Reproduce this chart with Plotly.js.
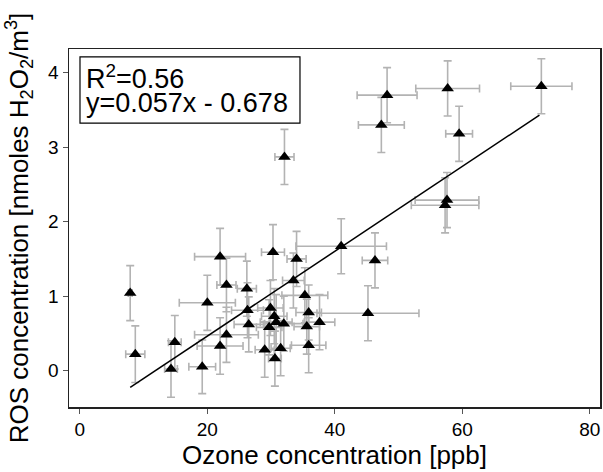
<!DOCTYPE html>
<html>
<head>
<meta charset="utf-8">
<script src="https://cdn.plot.ly/plotly-3.0.1.min.js"></script>
<style>html,body{margin:0;padding:0;background:#fff;}#chart{width:603px;height:472px;}</style>
</head>
<body>
<div id="chart"></div>
<script>
// Ozone concentration [ppb]
const ozone = [7.9, 8.7, 14.3, 14.9, 19.2, 20.0, 22.0, 22.0, 23.0, 23.0,
  26.2, 26.3, 26.5, 29.0, 29.7, 29.9, 30.3, 30.5, 30.6, 30.8,
  31.5, 32.0, 32.1, 33.5, 34.0, 35.3, 35.6, 35.9, 35.9, 37.6,
  41.0, 45.2, 46.3, 47.3, 48.2, 57.3, 57.6, 57.7, 59.5, 72.4];
// ROS concentration [nmoles H2O2/m3]
const ros = [1.04, 0.22, 0.02, 0.38, 0.05, 0.91, 1.53, 0.33, 1.15, 0.48,
  1.10, 0.81, 0.62, 0.28, 0.58, 0.84, 1.59, 0.73, 0.16, 0.65,
  0.30, 0.63, 2.87, 1.21, 1.50, 1.01, 0.59, 0.78, 0.34, 0.65,
  1.67, 0.77, 1.48, 3.30, 3.70, 2.22, 2.29, 3.79, 3.18, 3.82];
// x uncertainty [ppb]
const ozoneErr = [0.3, 1.5, 1.0, 1.0, 2.1, 4.4, 4.0, 3.6, 1.5, 5.0,
  1.5, 2.5, 2.3, 1.5, 2.0, 2.0, 1.8, 2.0, 1.0, 2.5,
  1.5, 3.0, 1.5, 1.7, 1.5, 3.6, 2.0, 2.0, 2.7, 2.4,
  7.1, 8.0, 2.0, 3.6, 4.7, 5.3, 5.0, 5.0, 2.1, 4.8];
// y uncertainty
const rosErr = [0.37, 0.38, 0.38, 0.36, 0.36, 0.37, 0.38, 0.38, 0.36, 0.37,
  0.37, 0.37, 0.37, 0.37, 0.37, 0.37, 0.37, 0.37, 0.37, 0.37,
  0.37, 0.37, 0.37, 0.37, 0.37, 0.37, 0.37, 0.37, 0.37, 0.37,
  0.37, 0.37, 0.37, 0.37, 0.37, 0.37, 0.37, 0.37, 0.37, 0.37];
// linear fit
const slope = 0.057;
const intercept = -0.678;
const fitX = [7.9, 72.1];
const fitY = fitX.map(v => slope * v + intercept);
const xTicks = [0, 20, 40, 60, 80];
const yTicks = [0, 1, 2, 3, 4];

const errStyle = {color: '#b3b3b3', thickness: 1.6, width: 4};

const traces = [
  {
    x: ozone, y: ros, type: 'scatter', mode: 'markers',
    marker: {symbol: 'triangle-up', size: 11, color: '#000'},
    error_x: Object.assign({type: 'data', array: ozoneErr, visible: true}, errStyle),
    error_y: Object.assign({type: 'data', array: rosErr, visible: true}, errStyle),
    showlegend: false
  },
  {
    x: fitX, y: fitY, type: 'scatter', mode: 'lines',
    line: {color: '#000', width: 1.5}, showlegend: false
  }
];

const font = 'Liberation Sans, Arial, sans-serif';
const layout = {
  width: 603, height: 472,
  margin: {l: 69, r: 3, t: 49, b: 65},
  paper_bgcolor: '#fff', plot_bgcolor: '#fff',
  font: {family: font, color: '#000'},
  xaxis: {
    range: [-1.7, 81.6], tickvals: xTicks, ticktext: xTicks.map(String),
    ticks: 'outside', ticklen: 5, tickwidth: 1.2, tickcolor: '#555',
    showgrid: false, zeroline: false, showline: true, mirror: true,
    linecolor: '#222', linewidth: 1.5,
    tickfont: {size: 19, family: font},
    title: {text: 'Ozone concentration [ppb]', font: {size: 26, family: font}, standoff: 3}
  },
  yaxis: {
    range: [-0.49, 4.32], tickvals: yTicks, ticktext: yTicks.map(String),
    ticks: 'outside', ticklen: 5, tickwidth: 1.2, tickcolor: '#555',
    showgrid: false, zeroline: false, showline: true, mirror: true,
    linecolor: '#222', linewidth: 1.5,
    tickfont: {size: 19, family: font},
    title: {text: 'ROS concentration [nmoles H<sub>2</sub>O<sub>2</sub>/m<sup>3</sup>]', font: {size: 26, family: font}, standoff: 12}
  },
  shapes: [{
    type: 'rect', xref: 'paper', yref: 'paper',
    x0: 0.0207, x1: 0.435, y0: 0.793, y1: 0.978,
    line: {color: '#000', width: 1.2}, fillcolor: 'rgba(0,0,0,0)'
  }],
  annotations: [
    {xref: 'paper', yref: 'paper', x: 0.028, y: 0.922, xanchor: 'left', yanchor: 'middle',
     text: 'R<sup>2</sup>=0.56', showarrow: false, font: {size: 27, family: font}},
    {xref: 'paper', yref: 'paper', x: 0.028, y: 0.850, xanchor: 'left', yanchor: 'middle',
     text: 'y=0.057x - 0.678', showarrow: false, font: {size: 27, family: font}}
  ]
};

Plotly.newPlot('chart', traces, layout, {displayModeBar: false, staticPlot: true});
</script>
</body>
</html>
